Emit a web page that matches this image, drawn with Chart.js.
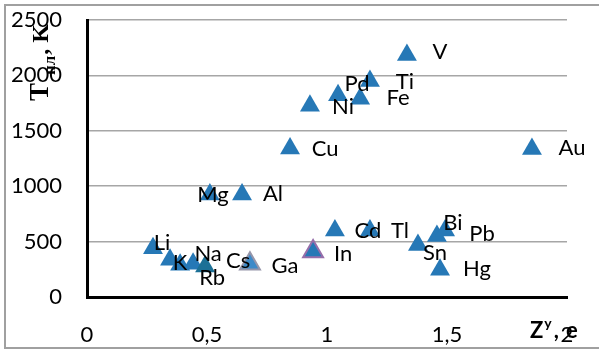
<!DOCTYPE html>
<html>
<head>
<meta charset="utf-8">
<script src="https://cdn.jsdelivr.net/npm/chart.js@4.4.1/dist/chart.umd.min.js"></script>
<style>
  html, body { margin: 0; padding: 0; background: #fff; }
  #wrap { position: relative; width: 599px; height: 351px; }
</style>
</head>
<body>
<div id="wrap"><canvas id="chart" width="599" height="351"></canvas></div>
<script>
// element names and values
const elements = ["V", "Ti", "Pd", "Fe", "Ni", "Cu", "Au", "Mg", "Al", "Li", "K",
  "Na", "Rb", "Cs", "Ga", "In", "Cd", "Tl", "Sn", "Bi", "Pb", "Hg"];
const zValues = [1.333, 1.179, 1.046, 1.138, 0.929, 0.846, 1.854, 0.512, 0.646, 0.275, 0.346,
  0.442, 0.388, 0.492, 0.679, 0.942, 1.033, 1.179, 1.379, 1.458, 1.492, 1.471];
const meltTemps = [2183, 1950, 1820, 1790, 1725, 1340, 1335, 925, 925, 440, 336,
  300, 290, 275, 300, 410, 600, 600, 470, 550, 600, 245];
const xTicks = [0, 0.5, 1, 1.5, 2];
const yTicks = [0, 500, 1000, 1500, 2000, 2500];

// label placement (pixels from the marker)
const labelDx = [33, 35, 19, 38, 33, 35, 40, 3, 31, 9, 10, 15, 32, 33, 35, 30, 33, 30, 17, 16, 37, 37];
const labelDy = [-3, 1, -11, -1, 1, 0, -1, 0, -1, -5, 3, -10, 13, -6, 2, 2, 0, 0, 8, -13, 3, -1];

const blue = "rgb(38,120,182)";
const fillColors = elements.map(e => e === "Ga" ? "rgb(62,138,200)" : e === "Cs" ? "rgb(28,112,150)" : blue);
const edgeColors = elements.map(e => e === "Ga" ? "rgb(150,150,170)" : e === "In" ? "rgb(150,110,170)" : (e === "Cs" ? "rgb(28,112,150)" : blue));
const edgeWidths = elements.map(e => (e === "Ga" || e === "In") ? 2 : 0);

const pointLabels = {
  id: "pointLabels",
  afterDatasetsDraw(chart) {
    const ctx = chart.ctx;
    const meta = chart.getDatasetMeta(0);
    ctx.save();
    ctx.font = "22px Lato";
    ctx.fillStyle = "#000";
    ctx.textAlign = "center";
    ctx.textBaseline = "middle";
    meta.data.forEach((pt, i) => {
      ctx.fillText(elements[i], pt.x + labelDx[i], pt.y + labelDy[i]);
    });
    ctx.restore();
  }
};

const frameAndTitles = {
  id: "frameAndTitles",
  beforeDraw(chart) {
    const ctx = chart.ctx;
    ctx.save();
    ctx.fillStyle = "#fff";
    ctx.fillRect(0, 0, chart.width, chart.height);
    ctx.strokeStyle = "#a0a0a0";
    ctx.lineWidth = 2;
    ctx.strokeRect(5, 5, 600, 343);
    ctx.restore();
  },
  afterDraw(chart) {
    const ctx = chart.ctx;
    // y title, rotated: T(пл), K
    ctx.save();
    ctx.translate(48, 101);
    ctx.rotate(-Math.PI / 2);
    ctx.fillStyle = "#000";
    ctx.textBaseline = "alphabetic";
    ctx.textAlign = "left";
    ctx.font = "bold 27px 'Liberation Serif'";
    ctx.fillText("T", 0, 0);
    let u = ctx.measureText("T").width + 8;
    ctx.font = "bold 17px 'Liberation Serif'";
    ctx.fillText("пл", u, 7);
    u += ctx.measureText("пл").width + 1;
    ctx.font = "bold 24px 'Liberation Serif'";
    ctx.fillText(", K", u, 0);
    ctx.restore();

    // x title: Z^y, e
    ctx.save();
    ctx.fillStyle = "#000";
    ctx.textBaseline = "alphabetic";
    ctx.textAlign = "left";
    let x = 530;
    ctx.font = "bold 22px Lato";
    ctx.fillText("Z", x, 338);
    x += ctx.measureText("Z").width + 1;
    ctx.font = "bold 14px Lato";
    ctx.fillText("y", x, 328);
    x += ctx.measureText("y").width + 2;
    ctx.font = "bold 22px Lato";
    ctx.fillText(",", x, 338);
    ctx.fillText("e", 566, 338);
    ctx.restore();
  }
};

new Chart(document.getElementById("chart"), {
  type: "scatter",
  data: {
    datasets: [{
      data: zValues.map((z, i) => ({ x: z, y: meltTemps[i] })),
      pointStyle: "triangle",
      pointRadius: 11.5,
      pointHoverRadius: 11.5,
      pointBackgroundColor: fillColors,
      pointBorderColor: edgeColors,
      pointBorderWidth: edgeWidths
    }]
  },
  options: {
    responsive: false,
    animation: false,
    layout: { autoPadding: false, padding: { left: 0, top: 20, right: 32, bottom: 0 } },
    plugins: { legend: { display: false }, tooltip: { enabled: false } },
    scales: {
      x: {
        type: "linear",
        min: 0,
        max: 2,
        afterFit(s) { s.height = 54; },
        afterBuildTicks(s) { s.ticks = xTicks.map(v => ({ value: v })); },
        ticks: {
          font: { family: "Lato", size: 22 },
          color: "#000",
          padding: 17,
          maxRotation: 0,
          callback: v => String(v).replace(".", ",")
        },
        grid: { display: false },
        border: { display: true, color: "#000", width: 3 }
      },
      y: {
        min: 0,
        max: 2500,
        afterFit(s) { s.width = 87; s.paddingTop = 0; s.paddingBottom = 0; },
        afterBuildTicks(s) { s.ticks = yTicks.map(v => ({ value: v })); },
        ticks: { font: { family: "Lato", size: 22, lineHeight: 0.5 }, color: "#000", padding: 25, callback: v => String(v) },
        grid: { color: "#a6a6a6", lineWidth: 1.5, drawTicks: false },
        border: { display: true, color: "#000", width: 3 }
      }
    }
  },
  plugins: [frameAndTitles, pointLabels]
});
</script>
</body>
</html>
